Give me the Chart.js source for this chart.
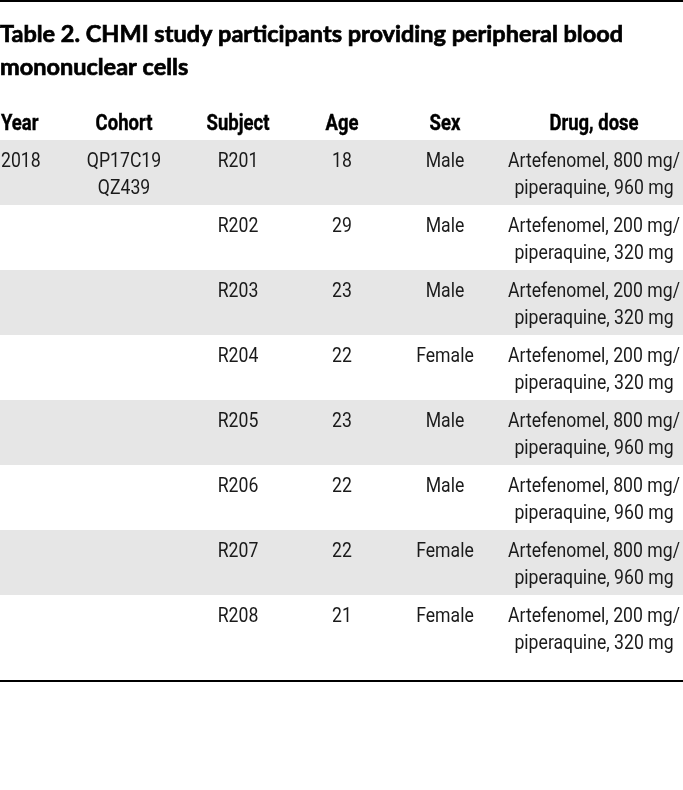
<!DOCTYPE html>
<html>
<head>
<meta charset="utf-8">
<title>Table 2</title>
<script src="https://cdn.jsdelivr.net/npm/chart.js@4.4.1/dist/chart.umd.min.js"></script>
<style>
  html, body { margin: 0; padding: 0; background: #fff; }
  #wrap { width: 683px; height: 790px; position: relative; }
</style>
</head>
<body>
<div id="wrap"><canvas id="tabla"></canvas></div>
<script>
// ===============================
// DATOS DE LA TABLA
// ===============================
const titulo = ["Table 2. CHMI study participants providing peripheral blood", "mononuclear cells"];
const columnas = ["Year", "Cohort", "Subject", "Age", "Sex", "Drug, dose"];

const years = ["2018", "", "", "", "", "", "", ""];
const cohorts = [["QP17C19", "QZ439"], [], [], [], [], [], [], []];
const subjects = ["R201", "R202", "R203", "R204", "R205", "R206", "R207", "R208"];
const ages = [18, 29, 23, 22, 23, 22, 22, 21];
const sexes = ["Male", "Male", "Male", "Female", "Male", "Male", "Female", "Female"];
const artefenomelMg = [800, 200, 200, 200, 800, 800, 800, 200];
const piperaquineMg = [960, 320, 320, 320, 960, 960, 960, 320];

// filas sombreadas (1 = gris)
const sombreado = [1, 0, 1, 0, 1, 0, 1, 0];


// ===============================
// ESTILO
// ===============================
const FUENTE = '"Roboto", "Liberation Sans", sans-serif';
const FUENTE_TITULO = '"Lato", "Open Sans", sans-serif';
const GRIS = "#e6e6e6";
const TEXTO = "#1a1a1a";
const ESTRECHO = 0.84; // compresión horizontal (la fuente original es condensada)

// x de cada columna (ancla) y alineación
const colX = [1, 124, 238, 342, 445, 594];
const colAlign = ["left", "center", "center", "center", "center", "center"];

// texto comprimido en horizontal
function textoEstrecho(ctx, t, x, y, align, grosor) {
  ctx.save();
  ctx.translate(x, y);
  ctx.scale(ESTRECHO, 1);
  ctx.textAlign = align;
  ctx.fillText(t, 0, 0);
  if (grosor) {
    ctx.lineWidth = grosor;
    ctx.strokeStyle = ctx.fillStyle;
    ctx.strokeText(t, 0, 0);
  }
  ctx.restore();
}


// ===============================
// PLUGIN QUE DIBUJA LOS TEXTOS
// ===============================
const textoTabla = {
  id: "textoTabla",
  afterDatasetsDraw(chart) {
    const { ctx, chartArea, scales } = chart;
    const y = scales.y;
    const W = chart.width;

    ctx.save();
    ctx.textBaseline = "alphabetic";

    // reglas superior e inferior
    ctx.fillStyle = "#000";
    ctx.fillRect(0, 0, W, 2);
    ctx.fillRect(0, chartArea.bottom + 20, W, 2);

    // título (algo más grueso, como el original)
    ctx.fillStyle = "#000";
    ctx.strokeStyle = "#000";
    ctx.lineWidth = 0.7;
    ctx.font = "bold 23.5px " + FUENTE_TITULO;
    ctx.textAlign = "left";
    titulo.forEach((t, k) => {
      ctx.fillText(t, 0, 42 + k * 33);
      ctx.strokeText(t, 0, 42 + k * 33);
    });

    // encabezados
    ctx.font = "bold 22px " + FUENTE;
    columnas.forEach((c, j) => {
      textoEstrecho(ctx, c, colX[j], chartArea.top - 10, colAlign[j], 0.4);
    });

    // celdas
    ctx.fillStyle = TEXTO;
    ctx.font = "21px " + FUENTE;
    const alto = y.getPixelForValue(1) - y.getPixelForValue(0);
    subjects.forEach((s, i) => {
      const top = y.getPixelForValue(i) - alto / 2;
      const b1 = top + 27;
      const b2 = top + 54;

      const celdas = [
        [years[i]],
        cohorts[i],
        [s],
        [String(ages[i])],
        [sexes[i]],
        [`Artefenomel, ${artefenomelMg[i]} mg/`, `piperaquine, ${piperaquineMg[i]} mg`]
      ];

      celdas.forEach((lineas, j) => {
        lineas.forEach((t, k) => {
          if (t) textoEstrecho(ctx, t, colX[j], k === 0 ? b1 : b2, colAlign[j]);
        });
      });
    });

    ctx.restore();
  }
};


// ===============================
// GRÁFICA (bandas de filas)
// ===============================
new Chart(document.getElementById("tabla"), {
  type: "bar",
  data: {
    labels: subjects,
    datasets: [{
      data: sombreado,
      backgroundColor: GRIS,
      borderWidth: 0,
      barPercentage: 1,
      categoryPercentage: 1,
      inflateAmount: 0
    }]
  },
  options: {
    indexAxis: "y",
    responsive: true,
    maintainAspectRatio: false,
    animation: false,
    layout: { padding: { top: 140, bottom: 130, left: 0, right: 0 } },
    scales: {
      x: { min: 0, max: 1, display: false },
      y: { type: "category", offset: true, display: false }
    },
    plugins: {
      legend: { display: false },
      tooltip: { enabled: false },
      title: { display: false }
    }
  },
  plugins: [textoTabla]
});
</script>
</body>
</html>
